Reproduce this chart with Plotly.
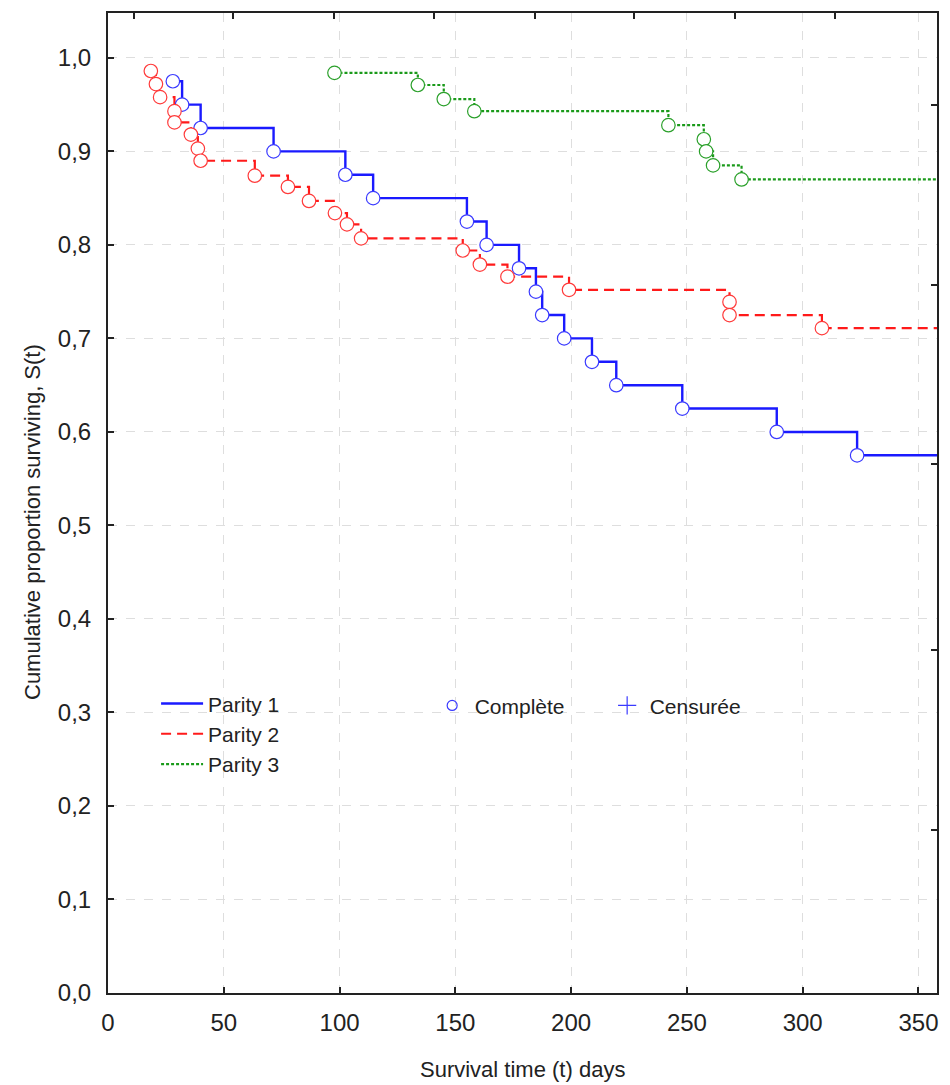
import plotly.graph_objects as go

# ---------------- data ----------------
p1_time = [28, 32, 40, 71.5, 102.5, 114.5, 155, 163.5, 177.5, 184.8, 187.5,
           197, 209, 219.5, 248, 288.8, 323.5]
p1_surv = [0.975, 0.95, 0.925, 0.90, 0.875, 0.85, 0.825, 0.80, 0.775, 0.75,
           0.725, 0.70, 0.675, 0.65, 0.625, 0.60, 0.575]

p2_time = [18.5, 20.7, 22.5, 28.7, 28.7, 35.8, 38.8, 40, 63.4, 77.7, 86.8,
           98, 103.2, 109.3, 153.2, 160.6, 172.5, 199.1, 268.4, 268.4, 308.3]
p2_surv = [0.986, 0.972, 0.958, 0.943, 0.931, 0.918, 0.903, 0.890, 0.874,
           0.862, 0.847, 0.834, 0.822, 0.807, 0.794, 0.779, 0.766, 0.752,
           0.739, 0.725, 0.711]

p3_time = [97.8, 133.8, 145, 158.2, 242, 257.3, 258.3, 261.3, 273.6]
p3_surv = [0.984, 0.971, 0.956, 0.943, 0.928, 0.913, 0.900, 0.885, 0.870]

follow_up_end = 360

series_names = ["Parity 1", "Parity 2", "Parity 3"]
legend2_names = ["Complète", "Censurée"]

x_ticks = [0, 50, 100, 150, 200, 250, 300, 350]
y_ticks = [0.0, 0.1, 0.2, 0.3, 0.4, 0.5, 0.6, 0.7, 0.8, 0.9, 1.0]
y_tick_text = ["0,0", "0,1", "0,2", "0,3", "0,4", "0,5", "0,6", "0,7",
               "0,8", "0,9", "1,0"]
top_ticks = [11.3, 53.9, 97.6, 140.7, 184.4, 227.2, 270.9, 313.9]
right_ticks = [0.174, 0.367, 0.566, 0.757, 0.950]

x_title = "Survival time (t) days"
y_title = "Cumulative proportion surviving, S(t)"

# ---------------- styling ----------------
FONT = "Liberation Sans, Arial, sans-serif"
INK = "#222222"
styles = [
    dict(line=dict(color="#1a1aff", width=2.4, dash="solid"), mk="#3a3aff"),
    dict(line=dict(color="#ff1a1a", width=2.2, dash="10px,6px"), mk="#ff3a3a"),
    dict(line=dict(color="#1a9a1a", width=2.2, dash="3px,2px"), mk="#2aa02a"),
]

fig = go.Figure()
all_series = [(p1_time, p1_surv), (p2_time, p2_surv), (p3_time, p3_surv)]
for (t, s), name, st in zip(all_series, series_names, styles):
    fig.add_trace(go.Scatter(
        x=list(t) + [follow_up_end], y=list(s) + [s[-1]],
        mode="lines", line_shape="hv", line=st["line"], name=name,
        legend="legend", hoverinfo="skip"))
for (t, s), name, st in zip(all_series, series_names, styles):
    fig.add_trace(go.Scatter(
        x=t, y=s, mode="markers", showlegend=False, hoverinfo="skip",
        marker=dict(symbol="circle", size=13.5, color="white",
                    line=dict(color=st["mk"], width=1.2))))

# second legend: event types
fig.add_trace(go.Scatter(
    x=[None], y=[None], mode="markers", name=legend2_names[0], legend="legend2",
    marker=dict(symbol="circle-open", size=10, color="#3a3aff",
                line=dict(color="#3a3aff", width=1.2))))
fig.add_trace(go.Scatter(
    x=[None], y=[None], mode="markers", name=legend2_names[1], legend="legend2",
    marker=dict(symbol="cross-thin-open", size=13, color="#3a3aff",
                line=dict(color="#3a3aff", width=1.2))))

# dummy trace for secondary (top/right) frame axes
fig.add_trace(go.Scatter(x=[None], y=[None], xaxis="x2", yaxis="y2",
                         showlegend=False, hoverinfo="skip"))

XR = [0, 358]
YR = [0, 1.048]

axis_common = dict(ticks="inside", ticklen=6, tickwidth=1.5, tickcolor=INK,
                   showline=True, linecolor=INK, linewidth=2, zeroline=False)

fig.update_layout(
    width=950, height=1085,
    margin=dict(l=108, r=13, t=13, b=92),
    paper_bgcolor="white", plot_bgcolor="white",
    font=dict(family=FONT, color=INK),
    xaxis=dict(range=XR, tickvals=x_ticks, showgrid=True, gridcolor="#dedede",
               griddash="dash", gridwidth=1, tickfont=dict(size=24),
               ticklabelstandoff=7, **axis_common),
    yaxis=dict(range=YR, tickvals=y_ticks, ticktext=y_tick_text, showgrid=True,
               gridcolor="#dedede", griddash="dash", gridwidth=1,
               tickfont=dict(size=24), ticklabelstandoff=10, **axis_common),
    xaxis2=dict(range=XR, overlaying="x", side="top", anchor="y",
                tickvals=top_ticks, showticklabels=False, showgrid=False,
                **axis_common),
    yaxis2=dict(range=YR, overlaying="y", side="right", anchor="x",
                tickvals=right_ticks, showticklabels=False, showgrid=False,
                **axis_common),
    legend=dict(x=0.058, y=0.316, xanchor="left", yanchor="top",
                bgcolor="rgba(0,0,0,0)", font=dict(size=21, color=INK),
                tracegroupgap=0, itemwidth=42, itemclick=False),
    legend2=dict(x=0.388, y=0.314, xanchor="left", yanchor="top",
                 orientation="h", bgcolor="rgba(0,0,0,0)",
                 font=dict(size=21, color=INK), itemwidth=35, entrywidth=125,
                 entrywidthmode="pixels"),
    showlegend=True,
    annotations=[
        dict(text=x_title, xref="paper", yref="paper", x=0.5, y=0,
             xanchor="center", yanchor="middle", yshift=-76, showarrow=False,
             font=dict(size=22, color=INK)),
        dict(text=y_title, xref="paper", yref="paper", x=0, y=0.5,
             xanchor="center", yanchor="middle", xshift=-76, yshift=-19,
             textangle=-90, showarrow=False, font=dict(size=22, color=INK)),
    ],
)

fig.write_html("out.html",
               config={"displayModeBar": False},
               post_script="document.body.style.margin='0';"
                           "document.body.style.overflow='hidden';")
